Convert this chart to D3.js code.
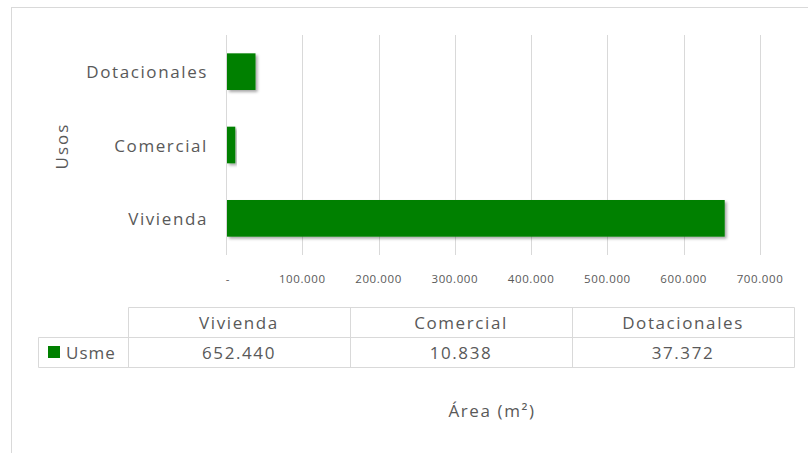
<!DOCTYPE html>
<html><head><meta charset="utf-8">
<script src="https://cdn.jsdelivr.net/npm/d3@7"></script>
<style>
body{margin:0;background:#fff;}
svg{display:block;font-family:"Open Sans",sans-serif;}
</style></head>
<body>
<svg id="chart" width="808" height="453"></svg>
<script>
const categories = ["Vivienda", "Comercial", "Dotacionales"];
const seriesName = "Usme";
const values = [652440, 10838, 37372];
const tickValues = [0, 100000, 200000, 300000, 400000, 500000, 600000, 700000];
const yAxisTitle = "Usos";
const xAxisTitle = "Área (m²)";

const svg = d3.select("#chart");
const green = "#008000";
const grid = "#d9d9d9";
const textCol = "#595959";
const bigFont = 17, bigSpace = 1.6;
const fmt = v => v === 0 ? "-" : d3.formatLocale({decimal: ",", thousands: ".", grouping: [3]}).format(",")(v);

// chart border
svg.append("rect").attr("x", 11.5).attr("y", 7.5).attr("width", 820).attr("height", 460)
  .attr("fill", "none").attr("stroke", grid);

const x = d3.scaleLinear().domain([0, 700000]).range([226, 760]);
const y = d3.scaleBand().domain(categories.slice().reverse()).range([35, 255]).paddingInner(0.5).paddingOuter(0.25);

// gridlines
svg.append("g").selectAll("line").data(tickValues).join("line")
  .attr("x1", d => Math.round(x(d)) + 0.5).attr("x2", d => Math.round(x(d)) + 0.5)
  .attr("y1", 35).attr("y2", 255).attr("stroke", grid).attr("stroke-width", 1);

// shadow filter
const defs = svg.append("defs");
const f = defs.append("filter").attr("id", "sh").attr("x", "-10%").attr("y", "-20%").attr("width", "130%").attr("height", "160%");
f.append("feGaussianBlur").attr("in", "SourceAlpha").attr("stdDeviation", 1.5);
f.append("feOffset").attr("dx", 1.5).attr("dy", 2).attr("result", "ob");
f.append("feComponentTransfer").append("feFuncA").attr("type", "linear").attr("slope", 0.35);
const m = f.append("feMerge"); m.append("feMergeNode"); m.append("feMergeNode").attr("in", "SourceGraphic");

// bars
svg.append("g").selectAll("rect").data(categories).join("rect")
  .attr("x", x(0) + 1).attr("y", d => y(d))
  .attr("width", (d, i) => x(values[i]) - x(0))
  .attr("height", y.bandwidth())
  .attr("fill", green).attr("filter", "url(#sh)");

// y category labels
svg.append("g").selectAll("text").data(categories).join("text")
  .attr("x", 208).attr("y", d => y(d) + y.bandwidth() / 2)
  .attr("text-anchor", "end").attr("dominant-baseline", "central")
  .attr("font-size", bigFont).attr("letter-spacing", bigSpace).attr("fill", textCol).text(d => d);

// y title
svg.append("text").attr("transform", "translate(61,146) rotate(-90)")
  .attr("text-anchor", "middle").attr("dominant-baseline", "central")
  .attr("font-size", bigFont).attr("fill", textCol).attr("letter-spacing", 2).text(yAxisTitle);

// tick labels
svg.append("g").selectAll("text").data(tickValues).join("text")
  .attr("x", d => x(d) + (d === 0 ? 2 : 0)).attr("y", 278)
  .attr("text-anchor", "middle").attr("dominant-baseline", "central")
  .attr("font-size", 11.5).attr("letter-spacing", 0.6).attr("fill", textCol).text(fmt);

// data table
const tx = d3.scaleBand().domain(categories).range([128, 794]);
const rowTop = 307.5, rowMid = 337.5, rowBot = 367.5, legLeft = 38.5;
const tg = svg.append("g").attr("stroke", grid).attr("fill", "none");
tg.append("line").attr("x1", tx.range()[0] + 0.5).attr("x2", tx.range()[1] + 0.5).attr("y1", rowTop).attr("y2", rowTop);
tg.append("line").attr("x1", legLeft).attr("x2", tx.range()[1] + 0.5).attr("y1", rowMid).attr("y2", rowMid);
tg.append("line").attr("x1", legLeft).attr("x2", tx.range()[1] + 0.5).attr("y1", rowBot).attr("y2", rowBot);
tg.append("line").attr("x1", legLeft).attr("x2", legLeft).attr("y1", rowMid).attr("y2", rowBot);
tg.selectAll("line.v").data(categories.concat(["end"])).join("line").attr("class", "v")
  .attr("x1", d => (d === "end" ? tx.range()[1] : tx(d)) + 0.5)
  .attr("x2", d => (d === "end" ? tx.range()[1] : tx(d)) + 0.5)
  .attr("y1", rowTop).attr("y2", rowBot);

svg.append("g").selectAll("text").data(categories).join("text")
  .attr("x", d => tx(d) + tx.bandwidth() / 2).attr("y", (rowTop + rowMid) / 2)
  .attr("text-anchor", "middle").attr("dominant-baseline", "central")
  .attr("font-size", bigFont).attr("letter-spacing", bigSpace).attr("fill", textCol).text(d => d);
svg.append("g").selectAll("text").data(categories).join("text")
  .attr("x", d => tx(d) + tx.bandwidth() / 2).attr("y", (rowMid + rowBot) / 2)
  .attr("text-anchor", "middle").attr("dominant-baseline", "central")
  .attr("font-size", bigFont).attr("letter-spacing", bigSpace).attr("fill", textCol).text((d, i) => fmt(values[i]));

// legend key
svg.append("rect").attr("x", 48).attr("y", 346).attr("width", 12).attr("height", 12).attr("fill", green);
svg.append("text").attr("x", 66).attr("y", (rowMid + rowBot) / 2)
  .attr("dominant-baseline", "central").attr("font-size", bigFont).attr("letter-spacing", 1).attr("fill", textCol).text(seriesName);

// x title
svg.append("text").attr("x", 492).attr("y", 410)
  .attr("text-anchor", "middle").attr("dominant-baseline", "central")
  .attr("font-size", bigFont).attr("letter-spacing", bigSpace).attr("fill", textCol).text(xAxisTitle);
</script>
</body></html>
